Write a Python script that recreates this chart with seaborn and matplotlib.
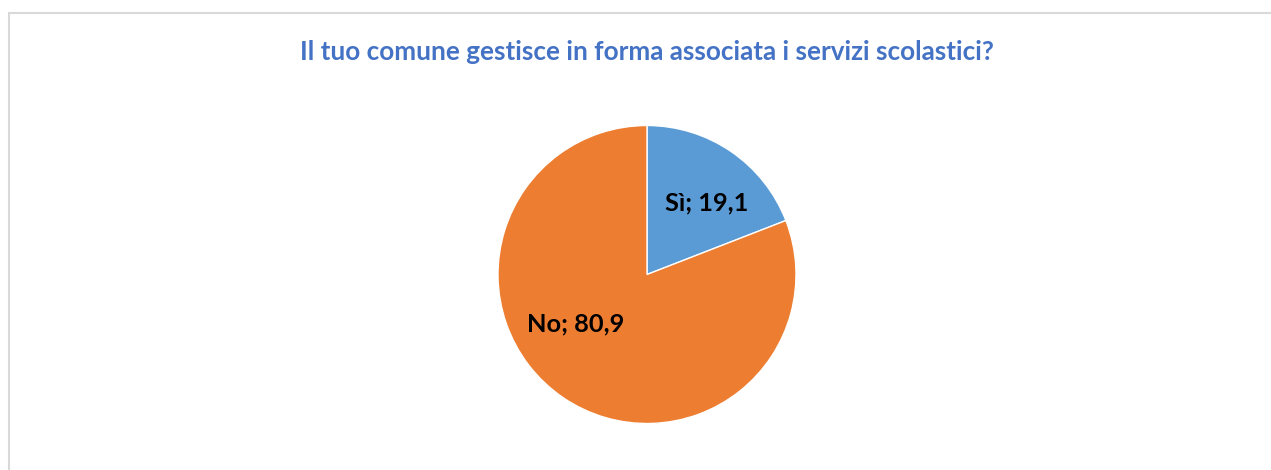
import matplotlib
matplotlib.use("Agg")
import matplotlib.pyplot as plt
import seaborn as sns
import numpy as np
from matplotlib.lines import Line2D

categories = ["Sì", "No"]
values = [19.1, 80.9]
value_labels = ["19,1", "80,9"]
title = "Il tuo comune gestisce in forma associata i servizi scolastici?"
colors = ["#5B9BD5", "#ED7D31"]

sns.set_theme(style="white")
plt.rcParams['font.family'] = ['Lato', 'DejaVu Sans']

W, H = 1271, 470
fig = plt.figure(figsize=(W / 100, H / 100), dpi=100)
fig.patch.set_facecolor("white")

# frame (top and left visible)
fig.add_artist(Line2D([9 / W, 1.0], [1 - 13 / H, 1 - 13 / H], transform=fig.transFigure,
                      color="#D9D9D9", lw=1.5))
fig.add_artist(Line2D([9 / W, 9 / W], [1 - 13 / H, 0], transform=fig.transFigure,
                      color="#D9D9D9", lw=1.5))

cx, cy, r = 647, 274.5, 149
ax = fig.add_axes([(cx - r) / W, (H - cy - r) / H, 2 * r / W, 2 * r / H])
wedges, _ = ax.pie(values, colors=colors, startangle=90, counterclock=False,
                   wedgeprops=dict(edgecolor="white", linewidth=1))
ax.set_xlim(-1, 1)
ax.set_ylim(-1, 1)
ax.set_aspect("equal")
ax.axis("off")

# label positions (Excel best-fit style)
label_pos = [(0.40, 0.48), (-0.48, -0.33)]
for cat, lab, (x, y) in zip(categories, value_labels, label_pos):
    ax.text(x, y, f"{cat}; {lab}", ha="center", va="center", fontsize=18.3,
            fontweight="bold", color="black")

fig.text(647 / W, 1 - 52 / H, title, ha="center", va="center", fontsize=18.8,
         fontweight="bold", color="#4472C4")

fig.savefig("out.png", dpi=100, facecolor="white")
